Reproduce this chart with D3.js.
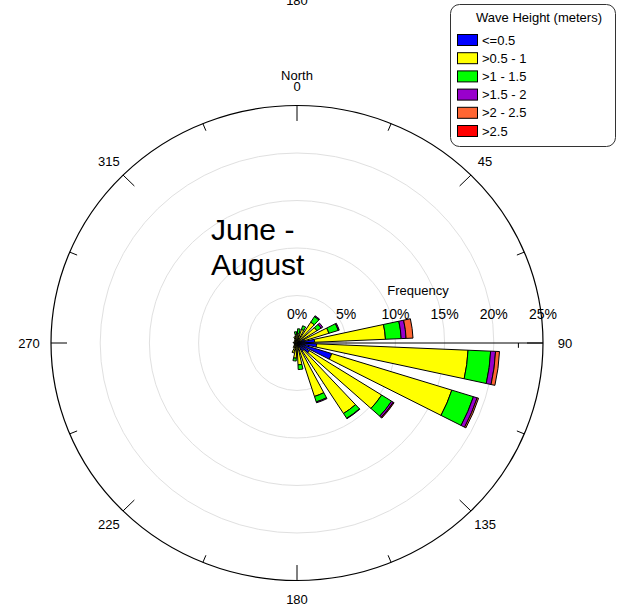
<!DOCTYPE html>
<html>
<head>
<meta charset="utf-8">
<script src="https://cdn.jsdelivr.net/npm/d3@7"></script>
<style>
  html, body { margin: 0; padding: 0; background: #fff; }
  svg { display: block; font-family: "Liberation Sans", Arial, sans-serif; }
</style>
</head>
<body>
<svg id="chart" width="617" height="609"></svg>
<script>
// ---------------- DATA ----------------
const directions = [7.5, 22.5, 37.5, 52.5, 67.5, 82.5, 97.5, 112.5, 127.5, 142.5, 157.5, 172.5,
                    187.5, 202.5, 217.5, 232.5, 247.5, 262.5, 277.5, 292.5, 307.5, 322.5, 337.5, 352.5];
const classes = ["<=0.5", ">0.5 - 1", ">1 - 1.5", ">1.5 - 2", ">2 - 2.5", ">2.5"];
const classColors = ["#0000ff", "#ffff00", "#00ff00", "#9900cc", "#ff6633", "#ff0000"];
// frequency (%) of each wave-height class per direction
const freqLe05   = [0.2, 0.2, 0.3, 0.4, 0.8, 1.8, 2.0, 3.7, 1.5, 1.0, 0.5, 0.2, 0.2, 0.2, 0.1, 0.1, 0.1, 0.1, 0.2, 0.1, 0.1, 0.1, 0.2, 0.2];
const freq05to1  = [0.8, 1.3, 2.3, 2.0, 2.6, 7.2, 15.4, 12.8, 8.7, 7.8, 5.4, 2.1, 1.4, 0.9, 0.5, 0.3, 0.2, 0.2, 0.2, 0.2, 0.2, 0.3, 0.5, 0.7];
const freq1to15  = [0.5, 0.4, 0.7, 0.5, 1.0, 1.6, 2.3, 2.3, 1.2, 0.6, 0.6, 0.5, 0.3, 0.0, 0.0, 0.0, 0.0, 0.0, 0.0, 0.0, 0.0, 0.0, 0.0, 0.3];
const freq15to2  = [0.0, 0.0, 0.1, 0.2, 0.1, 0.5, 0.5, 0.4, 0.2, 0.05, 0.1, 0.0, 0.0, 0.0, 0.0, 0.0, 0.0, 0.0, 0.0, 0.0, 0.0, 0.0, 0.0, 0.0];
const freq2to25  = [0.0, 0.0, 0.0, 0.0, 0.0, 0.7, 0.4, 0.15, 0.0, 0.0, 0.0, 0.0, 0.0, 0.0, 0.0, 0.0, 0.0, 0.0, 0.0, 0.0, 0.0, 0.0, 0.0, 0.0];
const freqGt25   = [0.0, 0.0, 0.0, 0.0, 0.0, 0.0, 0.0, 0.0, 0.1, 0.0, 0.0, 0.0, 0.0, 0.0, 0.0, 0.0, 0.0, 0.0, 0.0, 0.0, 0.0, 0.0, 0.0, 0.0];
const freqTicks = [0, 5, 10, 15, 20, 25];
const majorAngles = [0, 45, 90, 135, 180, 225, 270, 315];
const minorAngles = [22.5, 67.5, 112.5, 157.5, 202.5, 247.5, 292.5, 337.5];
const dirLabels = ["0", "45", "90", "135", "180", "225", "270", "315"];
const legendTitle = "Wave Height (meters)";
const titleLines = ["June -", "August"];

// ---------------- LAYOUT ----------------
const cx = 297, cy = 343, R = 246, sy = 0.9654;
const svg = d3.select("#chart");
const r = d3.scaleLinear().domain([0, 25]).range([0, R]);
const rad = d => d * Math.PI / 180;

const series = [freqLe05, freq05to1, freq1to15, freq15to2, freq2to25, freqGt25];
const table = directions.map((d, i) => {
  const o = { dir: d };
  classes.forEach((c, k) => o[c] = series[k][i]);
  return o;
});
const stacked = d3.stack().keys(classes)(table);

const rose = svg.append("g").attr("transform", `translate(${cx},${cy}) scale(1,${sy})`);

// grid circles
rose.selectAll("circle.grid").data(freqTicks.filter(t => t > 0 && t < 25)).join("circle")
  .attr("r", d => r(d)).attr("fill", "none").attr("stroke", "#e0e0e0")
  .attr("stroke-width", 1).attr("vector-effect", "non-scaling-stroke");

// frequency axis line (east)
rose.append("line").attr("x1", 0).attr("y1", 0).attr("x2", r(25)).attr("y2", 0)
  .attr("stroke", "#000").attr("stroke-width", 1).attr("vector-effect", "non-scaling-stroke");
rose.append("line").attr("x1", r(22.5)).attr("y1", 0).attr("x2", r(22.5)).attr("y2", 5)
  .attr("stroke", "#000").attr("stroke-width", 1).attr("vector-effect", "non-scaling-stroke");

// outer circle
rose.append("circle").attr("r", R).attr("fill", "none").attr("stroke", "#000")
  .attr("stroke-width", 1.2).attr("vector-effect", "non-scaling-stroke");

// ticks
const tick = (a, len) => ({ x1: Math.sin(rad(a)) * R, y1: -Math.cos(rad(a)) * R,
                            x2: Math.sin(rad(a)) * (R - len), y2: -Math.cos(rad(a)) * (R - len) });
rose.selectAll("line.major").data(majorAngles.map(a => tick(a, 16))).join("line")
  .attr("x1", d => d.x1).attr("y1", d => d.y1).attr("x2", d => d.x2).attr("y2", d => d.y2)
  .attr("stroke", "#000").attr("stroke-width", 1).attr("vector-effect", "non-scaling-stroke");
rose.selectAll("line.minor").data(minorAngles.map(a => tick(a, 8))).join("line")
  .attr("x1", d => d.x1).attr("y1", d => d.y1).attr("x2", d => d.x2).attr("y2", d => d.y2)
  .attr("stroke", "#000").attr("stroke-width", 1).attr("vector-effect", "non-scaling-stroke");

// bars
const halfWidth = 5;
const arc = d3.arc();
stacked.forEach((layer, k) => {
  rose.append("g").selectAll("path").data(layer.filter(d => d[1] - d[0] > 0)).join("path")
    .attr("d", d => arc({
      innerRadius: r(d[0]), outerRadius: r(d[1]),
      startAngle: rad(d.data.dir - halfWidth), endAngle: rad(d.data.dir + halfWidth)
    }))
    .attr("fill", classColors[k]).attr("stroke", "#000").attr("stroke-width", 1)
    .attr("stroke-linejoin", "miter").attr("vector-effect", "non-scaling-stroke");
});

// direction labels
const labR = a => (a % 180 === 90 ? 268 : 266);
svg.append("g").selectAll("text").data(majorAngles).join("text")
  .attr("x", a => cx + Math.sin(rad(a)) * labR(a))
  .attr("y", a => cy - Math.cos(rad(a)) * labR(a) * sy)
  .attr("text-anchor", "middle").attr("dominant-baseline", "central")
  .attr("font-size", 13).attr("fill", "#000")
  .text((a, i) => dirLabels[i]);
svg.append("text").attr("x", cx).attr("y", 75).attr("text-anchor", "middle")
  .attr("dominant-baseline", "central").attr("font-size", 13).text("North");
svg.append("text").attr("x", cx).attr("y", 0).attr("text-anchor", "middle")
  .attr("dominant-baseline", "central").attr("font-size", 13).text("180");

// frequency labels
svg.append("g").selectAll("text").data(freqTicks).join("text")
  .attr("x", d => cx + r(d)).attr("y", 314)
  .attr("text-anchor", "middle").attr("dominant-baseline", "central")
  .attr("font-size", 14).text(d => d + "%");
svg.append("text").attr("x", 418).attr("y", 290).attr("text-anchor", "middle")
  .attr("dominant-baseline", "central").attr("font-size", 13).text("Frequency");

// season title
svg.append("g").selectAll("text").data(titleLines).join("text")
  .attr("x", 211).attr("y", (d, i) => 240 + i * 35)
  .attr("font-size", 30).text(d => d);

// legend
const lg = svg.append("g");
lg.append("rect").attr("x", 450.5).attr("y", 4.5).attr("width", 165).attr("height", 142)
  .attr("rx", 9).attr("fill", "#fff").attr("stroke", "#333").attr("stroke-width", 1);
lg.append("text").attr("x", 539).attr("y", 17).attr("text-anchor", "middle")
  .attr("dominant-baseline", "central").attr("font-size", 13).text(legendTitle);
const items = lg.selectAll("g.item").data(classes).join("g")
  .attr("transform", (d, i) => `translate(457, ${40 + i * 18.2})`);
items.append("rect").attr("x", 0.5).attr("y", -5.5).attr("width", 20).attr("height", 11)
  .attr("fill", (d, i) => classColors[i]).attr("stroke", "#000").attr("stroke-width", 1);
items.append("text").attr("x", 25).attr("y", 0).attr("dominant-baseline", "central")
  .attr("font-size", 13).text(d => d);
</script>
</body>
</html>
